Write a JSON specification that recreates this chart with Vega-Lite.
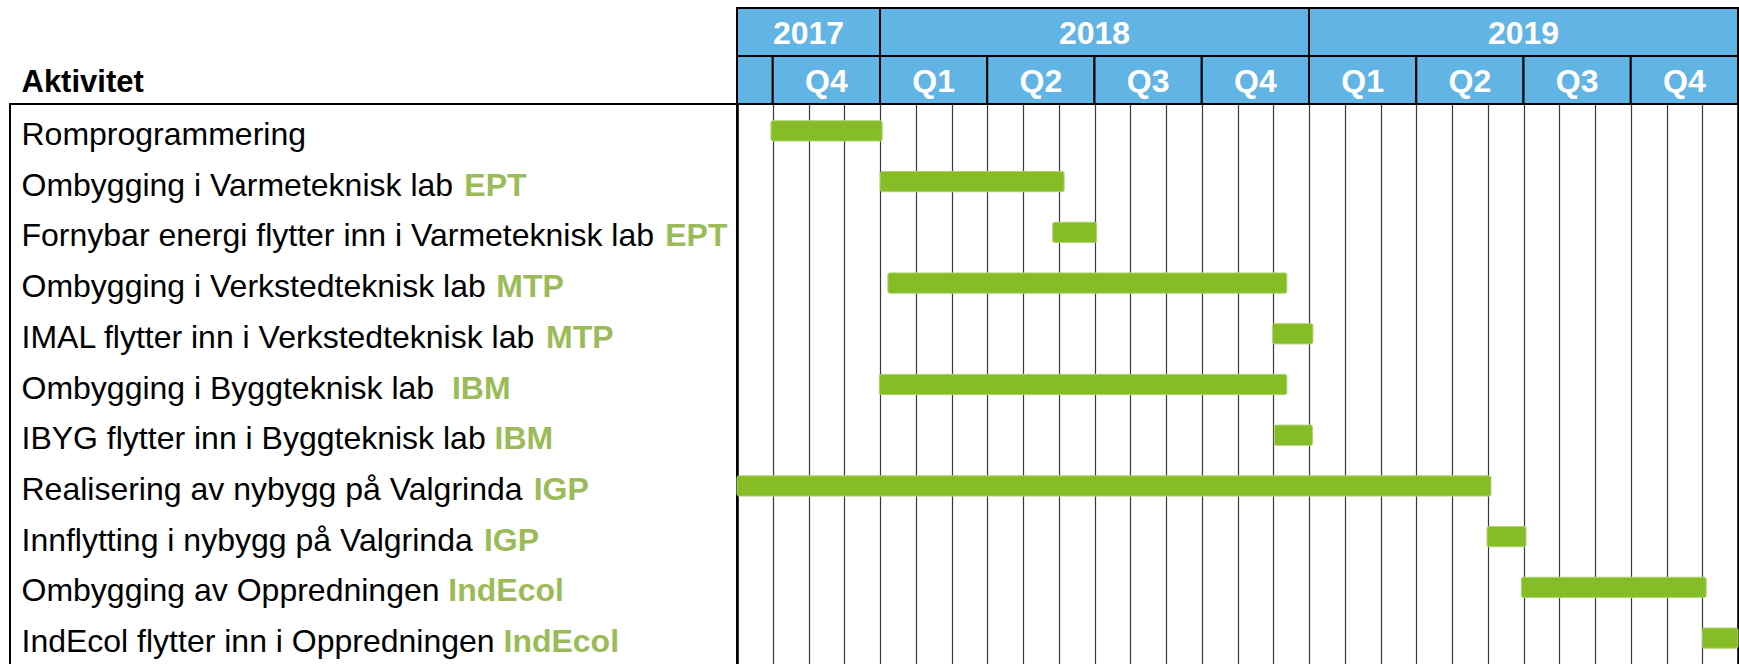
{
  "$schema": "https://vega.github.io/schema/vega-lite/v6.json",
  "padding": {"left": 9, "top": 7, "right": 2, "bottom": 0},
  "background": "white",
  "config": {
    "view": {"stroke": null},
    "font": "Liberation Sans",
    "concat": {"spacing": 0}
  },
  "datasets": {
    "periods": [
      {"level": "year", "label": "2017", "start": 0, "end": 4},
      {"level": "year", "label": "2018", "start": 4, "end": 16},
      {"level": "year", "label": "2019", "start": 16, "end": 28},
      {"level": "quarter", "label": "", "start": 0, "end": 1},
      {"level": "quarter", "label": "Q4", "start": 1, "end": 4},
      {"level": "quarter", "label": "Q1", "start": 4, "end": 7},
      {"level": "quarter", "label": "Q2", "start": 7, "end": 10},
      {"level": "quarter", "label": "Q3", "start": 10, "end": 13},
      {"level": "quarter", "label": "Q4", "start": 13, "end": 16},
      {"level": "quarter", "label": "Q1", "start": 16, "end": 19},
      {"level": "quarter", "label": "Q2", "start": 19, "end": 22},
      {"level": "quarter", "label": "Q3", "start": 22, "end": 25},
      {"level": "quarter", "label": "Q4", "start": 25, "end": 28}
    ],
    "tasks": [
      {"task": "Romprogrammering", "org": "", "start": 0.95, "end": 4.06},
      {"task": "Ombygging i Varmeteknisk lab", "org": "EPT", "start": 4.0, "end": 9.15},
      {"task": "Fornybar energi flytter inn i Varmeteknisk lab", "org": "EPT", "start": 8.83, "end": 10.06},
      {"task": "Ombygging i Verkstedteknisk lab", "org": "MTP", "start": 4.22, "end": 15.38},
      {"task": "IMAL flytter inn i Verkstedteknisk lab", "org": "MTP", "start": 14.98, "end": 16.11},
      {"task": "Ombygging i Byggteknisk lab ", "org": "IBM", "start": 3.98, "end": 15.38},
      {"task": "IBYG flytter inn i Byggteknisk lab", "org": "IBM", "start": 15.03, "end": 16.1},
      {"task": "Realisering av nybygg på Valgrinda", "org": "IGP", "start": 0, "end": 21.09},
      {"task": "Innflytting i nybygg på Valgrinda", "org": "IGP", "start": 20.98, "end": 22.07},
      {"task": "Ombygging av Oppredningen", "org": "IndEcol", "start": 21.94, "end": 27.11},
      {"task": "IndEcol flytter inn i Oppredningen", "org": "IndEcol", "start": 27.0, "end": 28.0}
    ]
  },
  "columns": 2,
  "spacing": 0,
  "bounds": "flush",
  "concat": [
    {
      "width": 727,
      "height": 96,
      "data": {"values": [{"heading": "Aktivitet"}]},
      "mark": {"type": "text", "align": "left", "baseline": "alphabetic", "dy": 12, "fontSize": 31, "fontWeight": "bold", "color": "black", "font": "Liberation Sans"},
      "encoding": {
        "x": {"datum": 0, "type": "quantitative", "scale": {"domain": [-0.359, 22.36], "nice": false, "zero": false}, "axis": null},
        "y": {"datum": "quarter", "type": "nominal", "scale": {"domain": ["year", "quarter"]}, "axis": null},
        "text": {"field": "heading"}
      }
    },
    {
      "width": 1001,
      "height": 96,
      "data": {"name": "periods"},
      "transform": [{"calculate": "(datum.start + datum.end) / 2", "as": "mid"}],
      "layer": [
        {
          "mark": {"type": "rect", "fill": "#62B4E4", "stroke": "black", "strokeWidth": 2},
          "encoding": {
            "x": {"field": "start", "type": "quantitative", "scale": {"domain": [0, 28], "nice": false, "zero": false}, "axis": null},
            "x2": {"field": "end"},
            "y": {"field": "level", "type": "nominal", "scale": {"type": "band", "domain": ["year", "quarter"], "paddingInner": 0, "paddingOuter": 0}, "axis": null}
          }
        },
        {
          "mark": {"type": "text", "color": "white", "fontSize": 32, "fontWeight": "bold", "baseline": "alphabetic", "align": "center", "dy": 12, "font": "Liberation Sans"},
          "encoding": {
            "x": {"field": "mid", "type": "quantitative", "scale": {"domain": [0, 28], "nice": false, "zero": false}, "axis": null},
            "y": {"field": "level", "type": "nominal", "bandPosition": 0.5, "scale": {"type": "band", "domain": ["year", "quarter"], "paddingInner": 0, "paddingOuter": 0}, "axis": null},
            "text": {"field": "label"}
          }
        }
      ]
    },
    {
      "width": 727,
      "height": 561,
      "view": {"stroke": "black", "strokeWidth": 2},
      "data": {"name": "tasks"},
      "transform": [
        {"calculate": "0.222*length(replace(datum.task+' ', regexp('[^ilj]','g'), '')) + 0.278*length(replace(datum.task+' ', regexp('[^ tfI]','g'), '')) + 0.333*length(replace(datum.task+' ', regexp('[^r]','g'), '')) + 0.5*length(replace(datum.task+' ', regexp('[^ykscvxzJ]','g'), '')) + 0.556*length(replace(datum.task+' ', regexp('[^abdeghnopquåL0-9]','g'), '')) + 0.611*length(replace(datum.task+' ', regexp('[^FTZ]','g'), '')) + 0.667*length(replace(datum.task+' ', regexp('[^AEPVBYSKX]','g'), '')) + 0.722*length(replace(datum.task+' ', regexp('[^RDCNHU]','g'), '')) + 0.778*length(replace(datum.task+' ', regexp('[^OGQ]','g'), '')) + 0.833*length(replace(datum.task+' ', regexp('[^mM]','g'), ''))", "as": "orgOffset"}
      ],
      "layer": [
        {
          "mark": {"type": "text", "align": "left", "baseline": "alphabetic", "dy": 14, "fontSize": 32, "color": "black", "font": "Liberation Sans"},
          "encoding": {
            "x": {"datum": 0, "type": "quantitative", "scale": {"domain": [-0.359, 22.36], "nice": false, "zero": false}, "axis": null},
            "y": {"field": "task", "type": "nominal", "sort": null, "bandPosition": 0.5, "scale": {"type": "band", "paddingInner": 0, "paddingOuter": 0.03}, "axis": null},
            "text": {"field": "task"}
          }
        },
        {
          "mark": {"type": "text", "align": "left", "baseline": "alphabetic", "dy": 14, "fontSize": 32, "fontWeight": "bold", "color": "#9BBB59", "font": "Liberation Sans"},
          "encoding": {
            "x": {"field": "orgOffset", "type": "quantitative", "scale": {"domain": [-0.359, 22.36], "nice": false, "zero": false}, "axis": null},
            "y": {"field": "task", "type": "nominal", "sort": null, "bandPosition": 0.5, "scale": {"type": "band", "paddingInner": 0, "paddingOuter": 0.03}, "axis": null},
            "text": {"field": "org"}
          }
        }
      ]
    },
    {
      "width": 1001,
      "height": 561,
      "data": {"name": "tasks"},
      "mark": {"type": "bar", "height": {"band": 0.4}, "color": "#86BC26", "stroke": "#AED474", "strokeWidth": 1, "cornerRadius": 2},
      "encoding": {
        "y": {"field": "task", "type": "nominal", "sort": null, "scale": {"type": "band", "paddingInner": 0, "paddingOuter": 0.03}, "axis": null},
        "x": {
          "field": "start",
          "type": "quantitative",
          "scale": {"domain": [0, 28], "nice": false, "zero": false},
          "axis": {
            "orient": "bottom",
            "values": [0, 1, 2, 3, 4, 5, 6, 7, 8, 9, 10, 11, 12, 13, 14, 15, 16, 17, 18, 19, 20, 21, 22, 23, 24, 25, 26, 27, 28],
            "grid": true,
            "labels": false,
            "ticks": false,
            "domain": false,
            "title": null,
            "offset": 0,
            "minExtent": 0,
            "maxExtent": 0,
            "gridOpacity": 1,
            "gridColor": {"condition": {"test": "datum.value === 0 || datum.value === 28", "value": "black"}, "value": "#3a3a3a"},
            "gridWidth": {"condition": {"test": "datum.value === 0 || datum.value === 28", "value": 2.6}, "value": 1.2}
          }
        },
        "x2": {"field": "end"}
      }
    }
  ]
}
